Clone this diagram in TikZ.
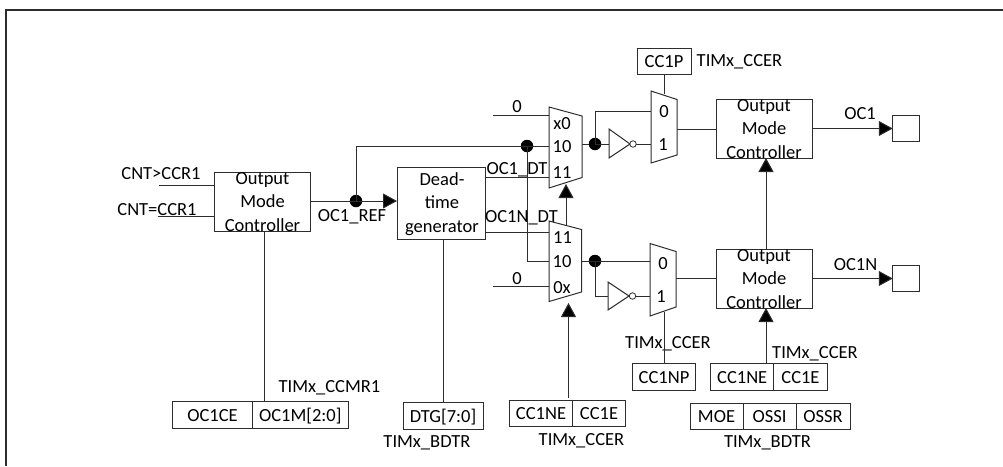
\documentclass[tikz,border=0pt]{standalone}
\usepackage{fontspec}
\setmainfont{Carlito}
\usetikzlibrary{positioning, arrows.meta}
\definecolor{wirecol}{RGB}{45, 45, 45}

\begin{document}
\begin{tikzpicture}[
        x=1pt, y=-1pt,
        wire/.style={draw=wirecol, line width=1pt},
        arrowwire/.style={wire, -{Triangle[length=14pt, width=15pt, fill=black]}},
        ctrlbox/.style={draw=wirecol, line width=1pt, minimum width=96.5pt, minimum height=59pt,
            inner sep=0pt, outer sep=0pt},
        ctrltxt/.style={align=center, inner sep=0pt, font=\fontsize{18.5}{23.5}\selectfont},
        regcell/.style={draw=wirecol, line width=1pt, minimum height=26.5pt,
            inner sep=0pt, outer sep=0pt, font=\fontsize{18.5}{22}\selectfont, text height=12pt, text depth=0pt},
        lbl/.style={inner sep=0pt, font=\fontsize{18.5}{22}\selectfont, text height=12pt, text depth=0pt},
        pad/.style={draw=wirecol, line width=1pt, minimum size=26.5pt, inner sep=0pt, outer sep=0pt},
        dot/.style={circle, fill=black, minimum size=12.5pt, inner sep=0pt},
        bubble/.style={circle, draw=wirecol, fill=white, line width=0.8pt, minimum size=6.5pt, inner sep=0pt, outer sep=0pt}
    ]
    \useasboundingbox (0,0) rectangle (1003,466);

    % Frame
    \coordinate (frametl) at (6,10);
    \coordinate (frametr) at (1003,10);
    \coordinate (framebl) at (6,466);
    \draw[wire, line width=1.3pt] (framebl) -- (frametl) -- (frametr);

    % Left controller
    \node[ctrlbox] (omcl) at (262.5,201.5) {};
    \node[ctrltxt] (omcltxt) at (262.5,202) {Output\\Mode\\Controller};
    \coordinate (cntgt) at (159,185);
    \coordinate (cnteq) at (158,216);
    \draw[wire] (cntgt) -- (cntgt -| omcl.west);
    \draw[wire] (cnteq) -- (cnteq -| omcl.west);
    \node[lbl] (cntgtlbl) at (161,173) {CNT>CCR1};
    \node[lbl] (cnteqlbl) at (157,209) {CNT=CCR1};
    \node[lbl] (reflbl) at (352,215) {OC1\_REF};

    % Dead-time generator
    \node[ctrlbox, minimum width=88pt, minimum height=72pt] (dtg) at (441,203) {};
    \node[ctrltxt] (dtgtxt) at (442,204) {Dead-\\time\\generator};
    \node[dot] (refdot) at (356,201) {};
    \draw[arrowwire] (omcl.east |- refdot) -- (dtg.west |- refdot);
    \node[lbl] (dtlbl) at (517,168) {OC1\_DT};
    \node[lbl] (ndtlbl) at (521.5,216) {OC1N\_DT};

    % Upper mux
    \coordinate (muxatl) at (549,107);
    \coordinate (muxatr) at (582,116);
    \coordinate (muxabr) at (582,177.5);
    \coordinate (muxabl) at (549,188);
    \coordinate (muxain) at (493,115);
    \coordinate (muxaout) at (582,144);
    \coordinate (muxapin) at (566,184);
    \node[dot] (bypdot) at (527,146) {};
    \draw[wire] (refdot.center) |- (muxatl |- bypdot);
    \draw[wire] (muxain) -- (muxain -| muxatl);
    \draw[wire] (dtg.east |- 0,177) -- (muxatl |- 0,177);
    \draw[wire, fill=white] (muxatl) -- (muxatr) -- (muxabr) -- (muxabl) -- cycle;
    \node[lbl] (azero) at (517,106) {0};
    \node[lbl] (ax) at (562,123) {x0};
    \node[lbl] (aten) at (562,146) {10};
    \node[lbl] (aele) at (562,172) {11};

    % Lower mux
    \coordinate (muxbtl) at (549,221);
    \coordinate (muxbtr) at (581.5,229.5);
    \coordinate (muxbbr) at (581.5,292);
    \coordinate (muxbbl) at (549,301.5);
    \coordinate (muxbin) at (493,286);
    \coordinate (muxbout) at (581.5,261);
    \coordinate (muxbpin) at (568.5,303);
    \draw[wire] (bypdot.center) |- (muxbtl |- muxbout);
    \draw[wire] (muxbin) -- (muxbin -| muxbtl);
    \draw[wire] (dtg.east |- 0,232) -- (muxbtl |- 0,232);
    \draw[arrowwire] (566,226) -- (muxapin);
    \draw[wire, fill=white] (muxbtl) -- (muxbtr) -- (muxbbr) -- (muxbbl) -- cycle;
    \node[lbl] (bzero) at (517,278) {0};
    \node[lbl] (bele) at (562.5,237) {11};
    \node[lbl] (bten) at (562,261) {10};
    \node[lbl] (bx) at (562,287) {0x};

    % Upper polarity mux
    \coordinate (polatl) at (651,91);
    \coordinate (polatr) at (677,99.5);
    \coordinate (polabr) at (677,155);
    \coordinate (polabl) at (651,163);
    \node[dot] (invadot) at (595,144) {};
    \draw[wire] (muxaout) -- (invadot);
    \draw[wire] (invadot.center) |- (polatl |- 0,111);
    \draw[wire] (invadot.center) -- (609,144);
    \coordinate (invatop) at (609,129);
    \coordinate (invatip) at (630,144);
    \coordinate (invabot) at (609,158);
    \draw[wire] (invatop) -- (invatip) -- (invabot) -- cycle;
    \node[bubble] (invabub) at (633,144) {};
    \draw[wire] (invabub) -- (polatl |- invabub);
    \draw[wire, fill=white] (polatl) -- (polatr) -- (polabr) -- (polabl) -- cycle;
    \node[lbl] (pazero) at (664,111) {0};
    \node[lbl] (paone) at (663,144) {1};

    % Lower polarity mux
    \coordinate (polbtl) at (650,243.5);
    \coordinate (polbtr) at (676,251.5);
    \coordinate (polbbr) at (676,307);
    \coordinate (polbbl) at (650,316);
    \node[dot] (invbdot) at (595,261) {};
    \draw[wire] (muxbout) -- (polbtl |- muxbout);
    \draw[wire] (invbdot.center) |- (608,296);
    \coordinate (invbtop) at (608,282);
    \coordinate (invbtip) at (629,296);
    \coordinate (invbbot) at (608,310);
    \draw[wire] (invbtop) -- (invbtip) -- (invbbot) -- cycle;
    \node[bubble] (invbbub) at (632.5,296) {};
    \draw[wire] (invbbub) -- (polbtl |- invbbub);
    \draw[wire, fill=white] (polbtl) -- (polbtr) -- (polbbr) -- (polbbl) -- cycle;
    \node[lbl] (pbzero) at (663,263) {0};
    \node[lbl] (pbone) at (661,296) {1};

    % Right controllers
    \node[ctrlbox] (omca) at (764.5,128.5) {};
    \node[ctrltxt] (omcatxt) at (764,129) {Output\\Mode\\Controller};
    \node[ctrlbox] (omcb) at (764.5,278.5) {};
    \node[ctrltxt] (omcbtxt) at (764,279) {Output\\Mode\\Controller};
    \draw[wire] (677,129) -- (omca.west |- 0,129);
    \draw[wire] (676,278) -- (omcb.west |- 0,278);
    \draw[arrowwire] (omcb.north -| 766,0) -- (omca.south -| 766,0);

    % Outputs
    \node[pad] (pada) at (906,128.5) {};
    \node[pad] (padb) at (906,278.5) {};
    \draw[arrowwire] (omca.east) -- (pada.west);
    \draw[arrowwire] (omcb.east) -- (padb.west);
    \node[lbl] (ocalbl) at (860,113) {OC1};
    \node[lbl] (ocblbl) at (855.5,264) {OC1N};

    % Polarity bits
    \node[regcell, minimum width=54pt] (ccp) at (664,61.5) {CC1P};
    \node[lbl] (ccplbl) at (739.5,60.5) {TIMx\_CCER};
    \draw[wire] (ccp.south) -- (664,94);
    \node[regcell, minimum width=63pt] (ccnp) at (664,377) {CC1NP};
    \node[lbl] (ccnplbl) at (668,342) {TIMx\_CCER};
    \draw[wire] (664,312) -- (ccnp.north);

    % Enable bits, right
    \node[regcell, minimum width=62.5pt] (ccne) at (742.2,377) {CC1NE};
    \node[regcell, minimum width=54pt, right=0pt of ccne] (cce) {CC1E};
    \node[lbl] (ccelbl) at (815,352.5) {TIMx\_CCER};
    \draw[arrowwire] (766,364) -- (omcb.south -| 766,0);

    % Break bits
    \node[regcell, minimum width=53pt] (moe) at (716.5,416.5) {MOE};
    \node[regcell, minimum width=53pt, right=0pt of moe] (ossi) {OSSI};
    \node[regcell, minimum width=54pt, right=0pt of ossi] (ossr) {OSSR};
    \node[lbl] (bdtrb) at (767.5,441) {TIMx\_BDTR};

    % Enable bits, lower mux
    \node[regcell, minimum width=62.5pt] (mne) at (541,413.5) {CC1NE};
    \node[regcell, minimum width=53.5pt, right=0pt of mne] (me) {CC1E};
    \node[lbl] (mlbl) at (581.5,439.5) {TIMx\_CCER};
    \draw[arrowwire] (568.5,398) -- (muxbpin);

    % Dead-time setting
    \node[regcell, minimum width=80pt] (dtgreg) at (443,416) {DTG[7:0]};
    \node[lbl] (dtglbl) at (427,441) {TIMx\_BDTR};
    \draw[wire] (dtg.south -| dtgreg) -- (dtgreg.north);

    % Mode bits
    \node[regcell, minimum width=80pt] (oce) at (212.5,415) {OC1CE};
    \node[regcell, minimum width=95.5pt, right=0pt of oce] (ocm) {OC1M[2:0]};
    \node[lbl] (ocmlbl) at (329.5,386) {TIMx\_CCMR1};
    \draw[wire] (omcl.south -| 264.5,0) -- (ocm.north -| 264.5,0);
\end{tikzpicture}
\end{document}
